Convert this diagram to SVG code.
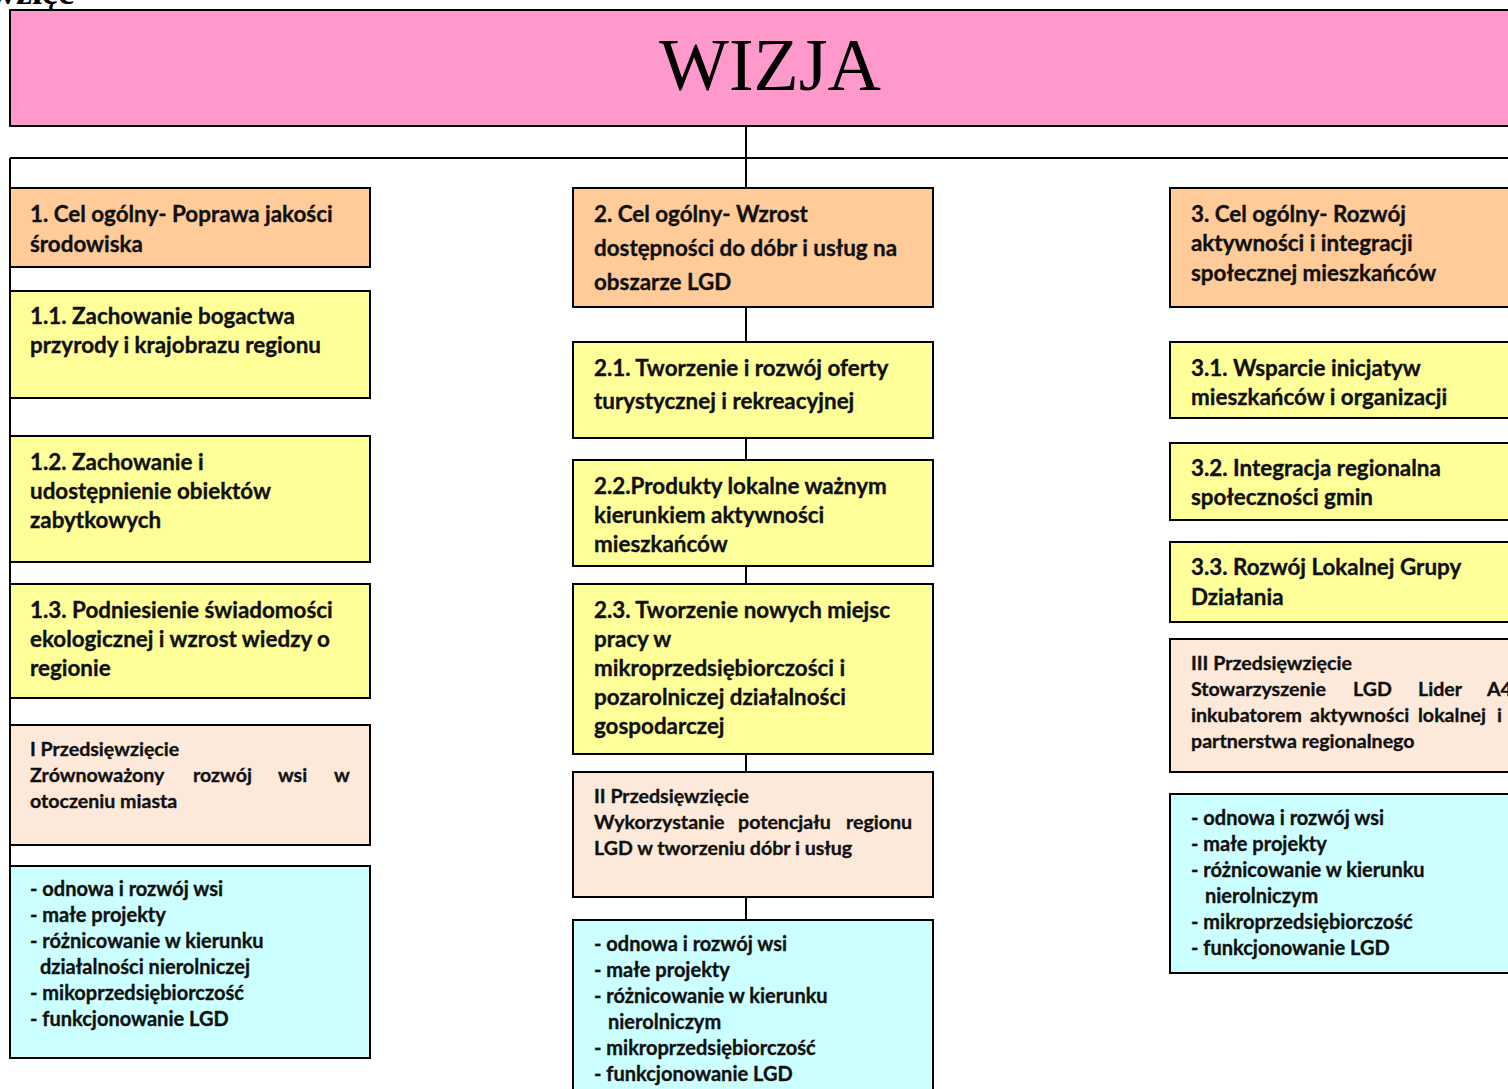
<svg xmlns="http://www.w3.org/2000/svg" width="1508" height="1089" viewBox="0 0 1508 1089">
<style>
.b{stroke:#000;stroke-width:2}
.pk{fill:#FF99CC}
.or{fill:#FFCC99}
.ye{fill:#FFFF99}
.lt{fill:#FDE9D9}
.cy{fill:#CCFFFF}
.t,.s,.m{font-family:Lato,"Liberation Sans",sans-serif;font-weight:bold;fill:#111;stroke:#111;stroke-width:0.35}
.t{font-size:22.4px}
.s{font-size:19.6px}
.m{font-size:20px}
.ln{stroke:#000;stroke-width:2;fill:none}
</style>
<rect width="1508" height="1089" fill="#fff"/>
<text x="-10" y="4" font-family="Liberation Serif,serif" font-weight="bold" font-size="36" fill="#000">wzięc</text>
<g id="connectors">
<line class="ln" x1="746" y1="126" x2="746" y2="920"/>
<line class="ln" x1="10" y1="158" x2="1510" y2="158"/>
<line class="ln" x1="10" y1="158" x2="10" y2="1058"/>
</g>
<g id="wizja">
<rect class="b pk" x="10" y="10" width="1505" height="116"/>
<text x="770" y="90" text-anchor="middle" font-family="Liberation Serif,serif" font-size="74" fill="#000">WIZJA</text>
</g>
<g id="c1">
<rect class="b or" x="10" y="188" width="360" height="79"/>
<text class="t" x="30" y="222">1. Cel ogólny- Poprawa jakości</text>
<text class="t" x="30" y="252">środowiska</text>
</g>
<g id="c11">
<rect class="b ye" x="10" y="291" width="360" height="107"/>
<text class="t" x="30" y="324">1.1. Zachowanie bogactwa</text>
<text class="t" x="30" y="353">przyrody i krajobrazu regionu</text>
</g>
<g id="c12">
<rect class="b ye" x="10" y="436" width="360" height="126"/>
<text class="t" x="30" y="470">1.2. Zachowanie i</text>
<text class="t" x="30" y="499">udostępnienie obiektów</text>
<text class="t" x="30" y="528">zabytkowych</text>
</g>
<g id="c13">
<rect class="b ye" x="10" y="584" width="360" height="114"/>
<text class="t" x="30" y="618">1.3. Podniesienie świadomości</text>
<text class="t" x="30" y="647">ekologicznej i wzrost wiedzy o</text>
<text class="t" x="30" y="676">regionie</text>
</g>
<g id="p1">
<rect class="b lt" x="10" y="725" width="360" height="120"/>
<text class="s" x="30" y="756">I Przedsięwzięcie</text>
<text class="s" y="782"><tspan x="30">Zrównoważony</tspan><tspan x="193">rozwój</tspan><tspan x="278">wsi</tspan><tspan x="334">w</tspan></text>
<text class="s" x="30" y="808">otoczeniu miasta</text>
</g>
<g id="l1">
<rect class="b cy" x="10" y="866" width="360" height="192"/>
<text class="m" x="30" y="896">- odnowa i rozwój wsi</text>
<text class="m" x="30" y="922">- małe projekty</text>
<text class="m" x="30" y="948">- różnicowanie w kierunku</text>
<text class="m" x="40" y="974">działalności  nierolniczej</text>
<text class="m" x="30" y="1000">- mikoprzedsiębiorczość</text>
<text class="m" x="30" y="1026">- funkcjonowanie LGD</text>
</g>
<g id="c2">
<rect class="b or" x="573" y="188" width="360" height="119"/>
<text class="t" x="594" y="222">2. Cel ogólny-  Wzrost</text>
<text class="t" x="594" y="256">dostępności do dóbr i usług na</text>
<text class="t" x="594" y="290">obszarze LGD</text>
</g>
<g id="c21">
<rect class="b ye" x="573" y="342" width="360" height="96"/>
<text class="t" x="594" y="376">2.1. Tworzenie i rozwój oferty</text>
<text class="t" x="594" y="409">turystycznej i rekreacyjnej</text>
</g>
<g id="c22">
<rect class="b ye" x="573" y="460" width="360" height="106"/>
<text class="t" x="594" y="494">2.2.Produkty lokalne ważnym</text>
<text class="t" x="594" y="523">kierunkiem aktywności</text>
<text class="t" x="594" y="552">mieszkańców</text>
</g>
<g id="c23">
<rect class="b ye" x="573" y="584" width="360" height="170"/>
<text class="t" x="594" y="618">2.3. Tworzenie nowych miejsc</text>
<text class="t" x="594" y="647">pracy w</text>
<text class="t" x="594" y="676">mikroprzedsiębiorczości i</text>
<text class="t" x="594" y="705">pozarolniczej działalności</text>
<text class="t" x="594" y="734">gospodarczej</text>
</g>
<g id="p2">
<rect class="b lt" x="573" y="772" width="360" height="125"/>
<text class="s" x="594" y="803">II Przedsięwzięcie</text>
<text class="s" y="829"><tspan x="594">Wykorzystanie</tspan><tspan x="738">potencjału</tspan><tspan x="846">regionu</tspan></text>
<text class="s" x="594" y="855">LGD w tworzeniu dóbr i usług</text>
</g>
<g id="l2">
<rect class="b cy" x="573" y="920" width="360" height="180"/>
<text class="m" x="594" y="951">- odnowa i rozwój wsi</text>
<text class="m" x="594" y="977">- małe projekty</text>
<text class="m" x="594" y="1003">- różnicowanie w kierunku</text>
<text class="m" x="608" y="1029">nierolniczym</text>
<text class="m" x="594" y="1055">- mikroprzedsiębiorczość</text>
<text class="m" x="594" y="1081">- funkcjonowanie LGD</text>
</g>
<g id="c3">
<rect class="b or" x="1170" y="188" width="345" height="119"/>
<text class="t" x="1191" y="222">3. Cel ogólny-  Rozwój</text>
<text class="t" x="1191" y="251">aktywności i integracji</text>
<text class="t" x="1191" y="281">społecznej mieszkańców</text>
</g>
<g id="c31">
<rect class="b ye" x="1170" y="342" width="345" height="76"/>
<text class="t" x="1191" y="376">3.1. Wsparcie inicjatyw</text>
<text class="t" x="1191" y="405">mieszkańców i organizacji</text>
</g>
<g id="c32">
<rect class="b ye" x="1170" y="443" width="345" height="77"/>
<text class="t" x="1191" y="476">3.2. Integracja regionalna</text>
<text class="t" x="1191" y="505">społeczności gmin</text>
</g>
<g id="c33">
<rect class="b ye" x="1170" y="542" width="345" height="80"/>
<text class="t" x="1191" y="575">3.3. Rozwój Lokalnej Grupy</text>
<text class="t" x="1191" y="605">Działania</text>
</g>
<g id="p3">
<rect class="b lt" x="1170" y="639" width="345" height="133"/>
<text class="s" x="1191" y="670">III Przedsięwzięcie</text>
<text class="s" y="696"><tspan x="1191">Stowarzyszenie</tspan><tspan x="1353">LGD</tspan><tspan x="1418">Lider</tspan><tspan x="1487">A4</tspan></text>
<text class="s" y="722"><tspan x="1191">inkubatorem</tspan><tspan x="1310">aktywności</tspan><tspan x="1418">lokalnej</tspan><tspan x="1497">i</tspan></text>
<text class="s" x="1191" y="748">partnerstwa regionalnego</text>
</g>
<g id="l3">
<rect class="b cy" x="1170" y="794" width="345" height="179"/>
<text class="m" x="1191" y="825">- odnowa i rozwój wsi</text>
<text class="m" x="1191" y="851">- małe projekty</text>
<text class="m" x="1191" y="877">- różnicowanie w kierunku</text>
<text class="m" x="1205" y="903">nierolniczym</text>
<text class="m" x="1191" y="929">- mikroprzedsiębiorczość</text>
<text class="m" x="1191" y="955">- funkcjonowanie LGD</text>
</g>
</svg>
